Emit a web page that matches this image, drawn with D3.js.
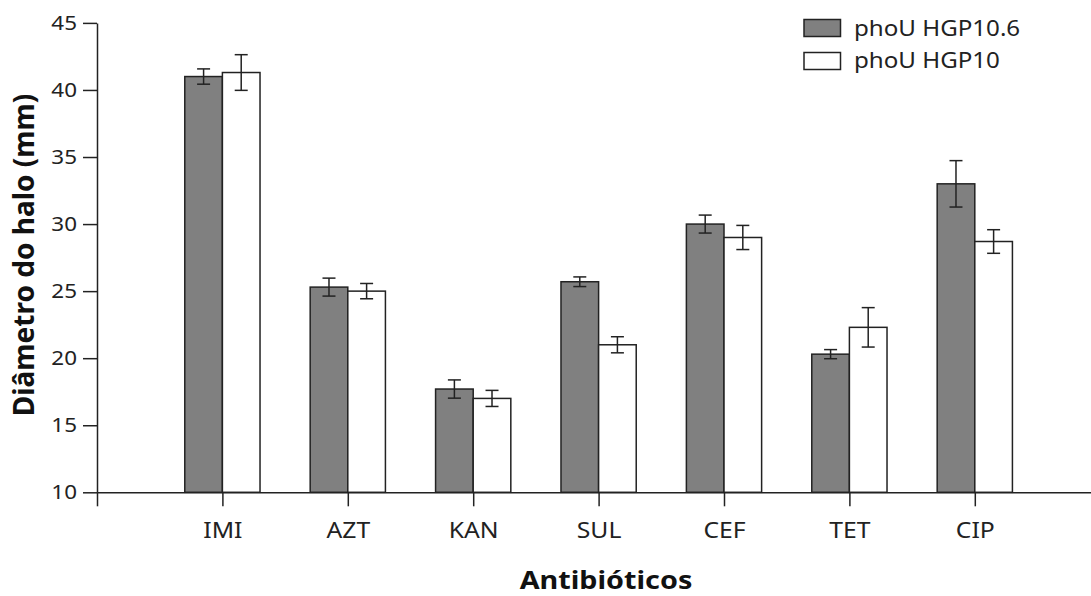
<!DOCTYPE html>
<html><head><meta charset="utf-8">
<script src="https://cdn.jsdelivr.net/npm/d3@7"></script>
<style>body{margin:0;background:#fff}svg{display:block}text{font-family:"Noto Sans",sans-serif}</style>
</head><body>
<svg id="c" width="1091" height="596"></svg>
<script>
const categories = ["IMI","AZT","KAN","SUL","CEF","TET","CIP"];
const seriesNames = ["phoU HGP10.6","phoU HGP10"];
const valuesA = [41.0, 25.3, 17.7, 25.7, 30.0, 20.3, 33.0];
const errorsA = [0.57, 0.67, 0.68, 0.36, 0.67, 0.34, 1.73];
const valuesB = [41.3, 25.0, 17.0, 21.0, 29.0, 22.3, 28.7];
const errorsB = [1.33, 0.57, 0.6, 0.6, 0.9, 1.47, 0.88];
const yTicks = [10,15,20,25,30,35,40,45];

const SX = 1.15; // horizontal glyph stretch seen in the reference
const svg = d3.select("#c");
const x = d3.scaleLinear().domain([0, 8]).range([97, 1100.2]);
const y = d3.scaleLinear().domain([10, 45]).range([492.3, 22.9]);
const bw = (x(1)-x(0))*0.3;
const ink = "#222";

const series = [
  {vals: valuesA, errs: errorsA, fill: "#808080", off: -1},
  {vals: valuesB, errs: errorsB, fill: "#ffffff", off: 0}
];
series.forEach(s => {
  svg.append("g").selectAll("rect").data(categories).join("rect")
    .attr("x", (d,i) => x(i+1) + s.off*bw)
    .attr("y", (d,i) => y(s.vals[i]))
    .attr("width", bw)
    .attr("height", (d,i) => y(10) - y(s.vals[i]))
    .attr("fill", s.fill).attr("stroke", ink).attr("stroke-width", 1.5);
});
series.forEach(s => {
  const g = svg.append("g").attr("stroke", ink).attr("stroke-width", 1.5);
  categories.forEach((c,i) => {
    const cx = x(i+1) + s.off*bw + bw/2;
    const t = y(s.vals[i] + s.errs[i]), b = y(s.vals[i] - s.errs[i]);
    g.append("line").attr("x1", cx).attr("x2", cx).attr("y1", t).attr("y2", b);
    g.append("line").attr("x1", cx-6.5).attr("x2", cx+6.5).attr("y1", t).attr("y2", t);
    g.append("line").attr("x1", cx-6.5).attr("x2", cx+6.5).attr("y1", b).attr("y2", b);
  });
});

const yAxis = svg.append("g").attr("transform", `translate(${x(0)},0)`)
  .call(d3.axisLeft(y).tickValues(yTicks).tickSize(14).tickSizeOuter(0).tickPadding(6));
const xAxis = svg.append("g").attr("transform", `translate(0,${y(10)})`)
  .call(d3.axisBottom(x).tickValues(d3.range(0,8)).tickSize(14).tickSizeOuter(0).tickPadding(16)
    .tickFormat(d => d === 0 ? "" : categories[d-1]));
[yAxis, xAxis].forEach(a => {
  a.selectAll("path,line").attr("stroke", ink).attr("stroke-width", 1.5);
  a.selectAll("text").attr("fill", ink).style("font-family", '"Noto Sans",sans-serif')
    .attr("transform", `scale(${SX},1)`);
});
yAxis.selectAll("text").style("font-size", "19.5px").attr("x", -20/SX);
xAxis.selectAll("text").style("font-size", "21.5px");

svg.append("text").attr("transform", `translate(606,589) scale(${SX},1)`).attr("text-anchor", "middle")
  .style("font-size", "25px").style("font-weight", "bold").attr("fill", "#111").text("Antibióticos");
svg.append("text").attr("transform", "translate(33.5,255) rotate(-90)").attr("text-anchor", "middle")
  .style("font-size", "28px").style("font-weight", "bold").attr("fill", "#111").text("Diâmetro do halo (mm)");

const leg = svg.append("g");
series.forEach((s, i) => {
  leg.append("rect").attr("x", 804).attr("y", 19.5 + i*33).attr("width", 36.5).attr("height", 17)
    .attr("fill", s.fill).attr("stroke", ink).attr("stroke-width", 1.5);
  leg.append("text").attr("transform", `translate(854,${36 + i*32}) scale(${SX},1)`)
    .style("font-size", "21px").attr("fill", ink).text(seriesNames[i]);
});
</script>
</body></html>
